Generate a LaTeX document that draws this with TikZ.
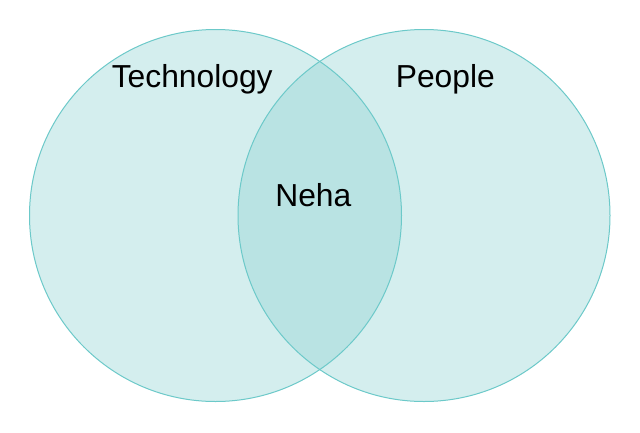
\documentclass[tikz,border=0pt]{standalone}
\usepackage{fontspec}
\setmainfont{Liberation Sans}
\definecolor{vfill}{HTML}{D4EEEE}
\definecolor{vover}{HTML}{B9E3E3}
\definecolor{vline}{HTML}{6CC9C9}
\begin{document}
\begin{tikzpicture}[x=1pt,y=-1pt,
  setcircle/.style={circle,minimum size=372pt,inner sep=0pt,outer sep=0pt},
  lbl/.style={anchor=base,inner sep=0pt,font=\fontsize{31.8}{38}\selectfont}]
\useasboundingbox (0,0) rectangle (640,432);
\fill[vfill] (215.5,215.5) circle[radius=186];
\fill[vfill] (424,215.5) circle[radius=186];
\begin{scope}
  \clip (215.5,215.5) circle[radius=186];
  \fill[vover] (424,215.5) circle[radius=186];
\end{scope}
\node[setcircle,draw=vline,line width=1pt] (tech) at (215.5,215.5) {};
\node[setcircle,draw=vline,line width=1pt] (people) at (424,215.5) {};
\node[lbl] (tlabel) at (192.2,87.3) {Technology};
\node[lbl] (plabel) at (445.3,87.3) {People};
\node[lbl] (nlabel) at (313.3,206) {Neha};
\end{tikzpicture}
\end{document}
